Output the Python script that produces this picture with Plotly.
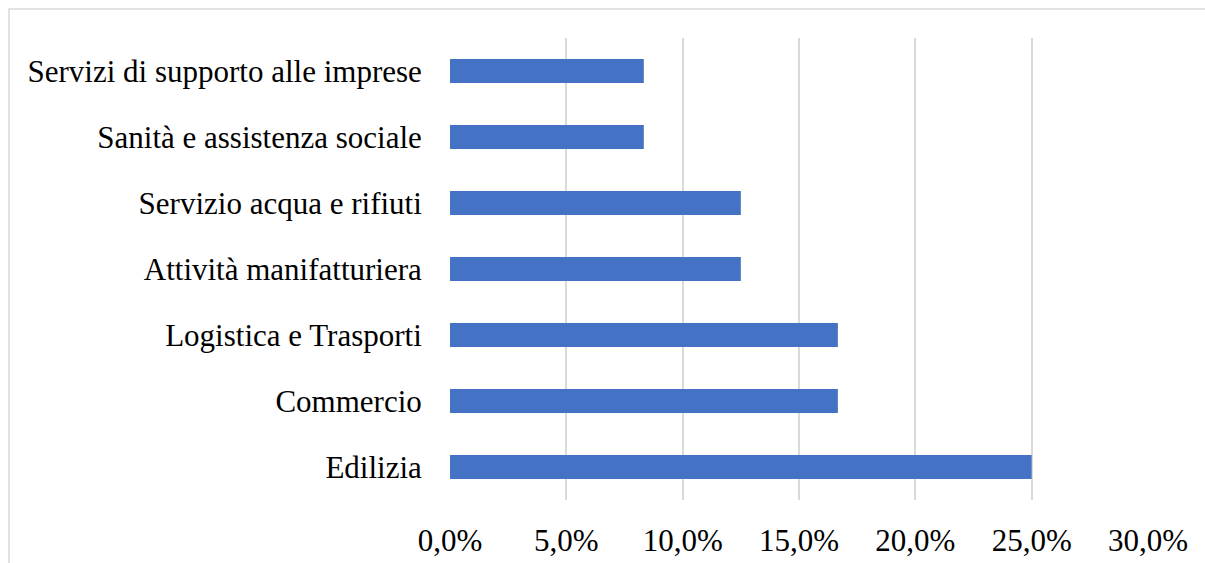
import plotly.graph_objects as go

# Sectors (bottom to top as drawn) and their shares
settori = [
    "Edilizia",
    "Commercio",
    "Logistica e Trasporti",
    "Attività manifatturiera",
    "Servizio acqua e rifiuti",
    "Sanità e assistenza sociale",
    "Servizi di supporto alle imprese",
]
quote = [0.25, 0.1667, 0.1667, 0.125, 0.125, 0.0833, 0.0833]

tick_vals = [0, 0.05, 0.10, 0.15, 0.20, 0.25, 0.30]

FONT = "Liberation Serif, Times New Roman, serif"
FSIZE = 31

fig = go.Figure(
    go.Bar(
        x=quote,
        y=settori,
        orientation="h",
        marker=dict(color="#4472C4", line=dict(width=0)),
        hoverinfo="skip",
    )
)

L, R, T, B = 450, 57, 38, 63
W, H = 1205, 563
pw, ph = W - L - R, H - T - B

fig.update_layout(
    width=W,
    height=H,
    margin=dict(l=L, r=R, t=T, b=B, autoexpand=False),
    paper_bgcolor="white",
    plot_bgcolor="white",
    separators=",.",
    bargap=0.64,
    showlegend=False,
    font=dict(family=FONT, size=FSIZE, color="black"),
    xaxis=dict(
        range=[0, 0.30],
        tickvals=tick_vals,
        tickformat=".1%",
        showgrid=True,
        gridcolor="#d9d9d9",
        gridwidth=1.5,
        zeroline=False,
        showline=False,
        ticks="outside",
        ticklen=13,
        tickcolor="rgba(0,0,0,0)",
        tickfont=dict(family=FONT, size=FSIZE, color="black"),
        automargin=False,
        fixedrange=True,
    ),
    yaxis=dict(
        categoryorder="array",
        categoryarray=settori,
        showgrid=False,
        zeroline=False,
        showline=False,
        ticks="outside",
        ticklen=21,
        tickcolor="rgba(0,0,0,0)",
        tickfont=dict(family=FONT, size=FSIZE, color="black"),
        automargin=False,
        fixedrange=True,
    ),
    shapes=[
        # light frame around the chart area
        dict(
            type="rect",
            xref="paper",
            yref="paper",
            x0=(9 - L) / pw,
            x1=(W + 20 - L) / pw,
            y0=-(B + 20) / ph,
            y1=(H - B - 9) / ph,
            line=dict(color="#d9d9d9", width=1.5),
            fillcolor="rgba(0,0,0,0)",
            layer="below",
        )
    ],
)

fig.write_html("out.html", config={"displayModeBar": False})
